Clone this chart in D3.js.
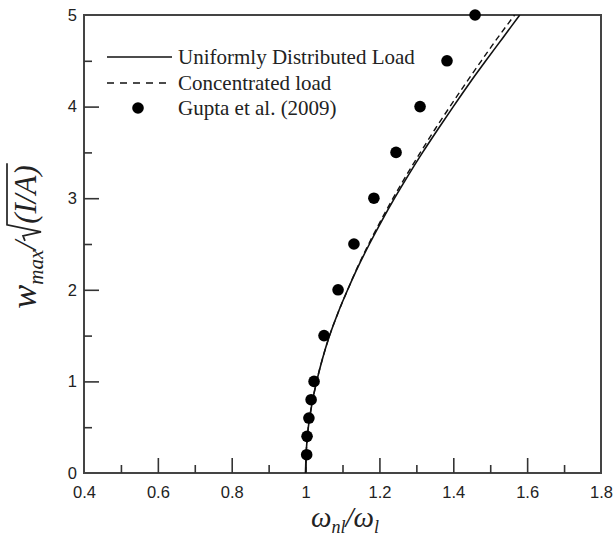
<!DOCTYPE html>
<html>
<head>
<meta charset="utf-8">
<script src="https://cdn.jsdelivr.net/npm/d3@7"></script>
<style>
  body { margin: 0; background: #fff; }
  svg { display: block; }
</style>
</head>
<body>
<svg id="chart" width="613" height="542"></svg>
<script>
// ---- data ----
const curveW = [0, 0.25, 0.5, 0.75, 1.0, 1.25, 1.5, 1.75, 2.0, 2.25, 2.5, 2.75, 3.0, 3.25, 3.5, 3.75, 4.0, 4.25, 4.5, 4.75, 5.0];
const uniformRatio = [1.0, 1.002, 1.0075, 1.017, 1.030, 1.046, 1.065, 1.088, 1.114, 1.142, 1.173, 1.206, 1.241, 1.278, 1.317, 1.358, 1.400, 1.443, 1.488, 1.534, 1.580];
const concentratedRatio = [1.0, 1.002, 1.0075, 1.017, 1.030, 1.046, 1.065, 1.088, 1.114, 1.141, 1.171, 1.203, 1.237, 1.273, 1.311, 1.350, 1.391, 1.433, 1.476, 1.520, 1.566];
const guptaW = [0.2, 0.4, 0.6, 0.8, 1.0, 1.5, 2.0, 2.5, 3.0, 3.5, 4.0, 4.5, 5.0];
const guptaRatio = [1.003, 1.004, 1.009, 1.015, 1.023, 1.05, 1.088, 1.131, 1.185, 1.245, 1.31, 1.383, 1.459];
const xTicks = [0.4, 0.6, 0.8, 1.0, 1.2, 1.4, 1.6, 1.8];
const xTickLabels = ["0.4", "0.6", "0.8", "1", "1.2", "1.4", "1.6", "1.8"];
const xMinorTicks = [0.5, 0.7, 0.9, 1.1, 1.3, 1.5, 1.7];
const yTicks = [0, 1, 2, 3, 4, 5];
const yTickLabels = ["0", "1", "2", "3", "4", "5"];
const yMinorTicks = [0.5, 1.5, 2.5, 3.5, 4.5];
const legendLabels = ["Uniformly Distributed Load", "Concentrated load", "Gupta et al. (2009)"];

// ---- layout ----
const svg = d3.select("#chart");
const L = 84, R = 601, T = 15, B = 473;
const x = d3.scaleLinear().domain([0.4, 1.8]).range([L, R]);
const y = d3.scaleLinear().domain([0, 5]).range([B, T]);
const axisColor = "#333";
const tickFont = "'Liberation Sans', Arial, sans-serif";
const serif = "'Liberation Serif', 'Times New Roman', serif";

svg.append("defs").append("clipPath").attr("id", "plotclip")
  .append("rect").attr("x", L).attr("y", T).attr("width", R - L).attr("height", B - T);

// frame
svg.append("rect").attr("x", L).attr("y", T).attr("width", R - L).attr("height", B - T)
  .attr("fill", "none").attr("stroke", "#444").attr("stroke-width", 2);

// x axis
const xAxis = svg.append("g").attr("transform", `translate(0,${B})`)
  .call(d3.axisBottom(x).tickValues(xTicks).tickFormat((d, i) => xTickLabels[i]).tickSize(-15).tickSizeOuter(0).tickPadding(13));
const xMinor = svg.append("g").attr("transform", `translate(0,${B})`)
  .call(d3.axisBottom(x).tickValues(xMinorTicks).tickFormat("").tickSize(-8).tickSizeOuter(0));
// y axis
const yAxis = svg.append("g").attr("transform", `translate(${L},0)`)
  .call(d3.axisLeft(y).tickValues(yTicks).tickFormat((d, i) => yTickLabels[i]).tickSize(-15).tickSizeOuter(0).tickPadding(7));
const yMinor = svg.append("g").attr("transform", `translate(${L},0)`)
  .call(d3.axisLeft(y).tickValues(yMinorTicks).tickFormat("").tickSize(-8).tickSizeOuter(0));

[xAxis, xMinor, yAxis, yMinor].forEach(g => {
  g.select(".domain").remove();
  g.selectAll(".tick line").attr("stroke", axisColor).attr("stroke-width", 1.6);
  g.selectAll(".tick text").attr("font-family", tickFont).attr("font-size", 16.5).attr("fill", "#222");
});
xAxis.selectAll(".tick line").filter(d => d === 0.4 || d === 1.8).remove();
yAxis.selectAll(".tick line").filter(d => d === 0 || d === 5).remove();

// ---- lines ----
const plot = svg.append("g").attr("clip-path", "url(#plotclip)");
const line = d3.line().x(d => x(d[0])).y(d => y(d[1])).curve(d3.curveMonotoneY);
const uni = curveW.map((w, i) => [uniformRatio[i], w]);
const con = curveW.map((w, i) => [concentratedRatio[i], w]);
plot.append("path").datum(con).attr("d", line).attr("fill", "none")
  .attr("stroke", "#111").attr("stroke-width", 1.4).attr("stroke-dasharray", "6,4");
plot.append("path").datum(uni).attr("d", line).attr("fill", "none")
  .attr("stroke", "#111").attr("stroke-width", 1.6);

// points
svg.append("g").selectAll("circle").data(guptaW.map((w, i) => [guptaRatio[i], w]))
  .join("circle").attr("cx", d => x(d[0])).attr("cy", d => y(d[1])).attr("r", 5.8).attr("fill", "#000");

// ---- legend ----
const lg = svg.append("g");
const rows = [57, 83, 108];
lg.append("line").attr("x1", 107).attr("x2", 172).attr("y1", rows[0]).attr("y2", rows[0])
  .attr("stroke", "#111").attr("stroke-width", 1.5);
lg.append("line").attr("x1", 107).attr("x2", 172).attr("y1", rows[1]).attr("y2", rows[1])
  .attr("stroke", "#111").attr("stroke-width", 1.5).attr("stroke-dasharray", "7,6");
lg.append("circle").attr("cx", 138).attr("cy", rows[2]).attr("r", 5.8).attr("fill", "#000");
legendLabels.forEach((t, i) => {
  lg.append("text").attr("x", 178).attr("y", rows[i] + 7).text(t)
    .attr("font-family", serif).attr("font-size", 21).attr("fill", "#222");
});

// ---- x title ----
const xt = svg.append("text").attr("x", 345).attr("y", 527).attr("text-anchor", "middle")
  .attr("font-family", serif).attr("font-style", "italic").attr("fill", "#222");
xt.append("tspan").attr("font-size", 29).text("ω");
xt.append("tspan").attr("font-size", 18).attr("dy", 6).text("nl");
xt.append("tspan").attr("font-size", 29).attr("dy", -6).text("/ω");
xt.append("tspan").attr("font-size", 18).attr("dy", 6).text("l");

// ---- y title (rotated, built from measured pieces) ----
const yg = svg.append("g");
function piece(txt, size, dy) {
  return yg.append("text").attr("font-family", serif).attr("font-style", "italic")
    .attr("font-size", size).attr("fill", "#222").attr("y", dy).text(txt);
}
const pW = piece("w", 36, 0);
const pMax = piece("max", 21, 7);
const pSlash = piece("/", 32, 0);
const pIA = piece("(I/A)", 31, 0);
const wW = pW.node().getComputedTextLength();
const wMax = pMax.node().getComputedTextLength();
const wSlash = pSlash.node().getComputedTextLength();
const wIA = pIA.node().getComputedTextLength();
const radW = 17;
const total = wW + wMax + wSlash + radW + wIA + 2;
let cx = -total / 2;
pW.attr("x", cx); cx += wW;
pMax.attr("x", cx); cx += wMax;
pSlash.attr("x", cx); cx += wSlash;
const rx = cx;
cx += radW;
pIA.attr("x", cx);
const endX = cx + wIA + 2;
yg.append("path")
  .attr("d", `M${rx},${-11} L${rx + 5},${-13} L${rx + 9},${5} L${rx + radW - 1},${-29} L${endX},${-29}`)
  .attr("fill", "none").attr("stroke", "#222").attr("stroke-width", 1.7);
yg.attr("transform", "translate(36,236) rotate(-90)");
</script>
</body>
</html>
